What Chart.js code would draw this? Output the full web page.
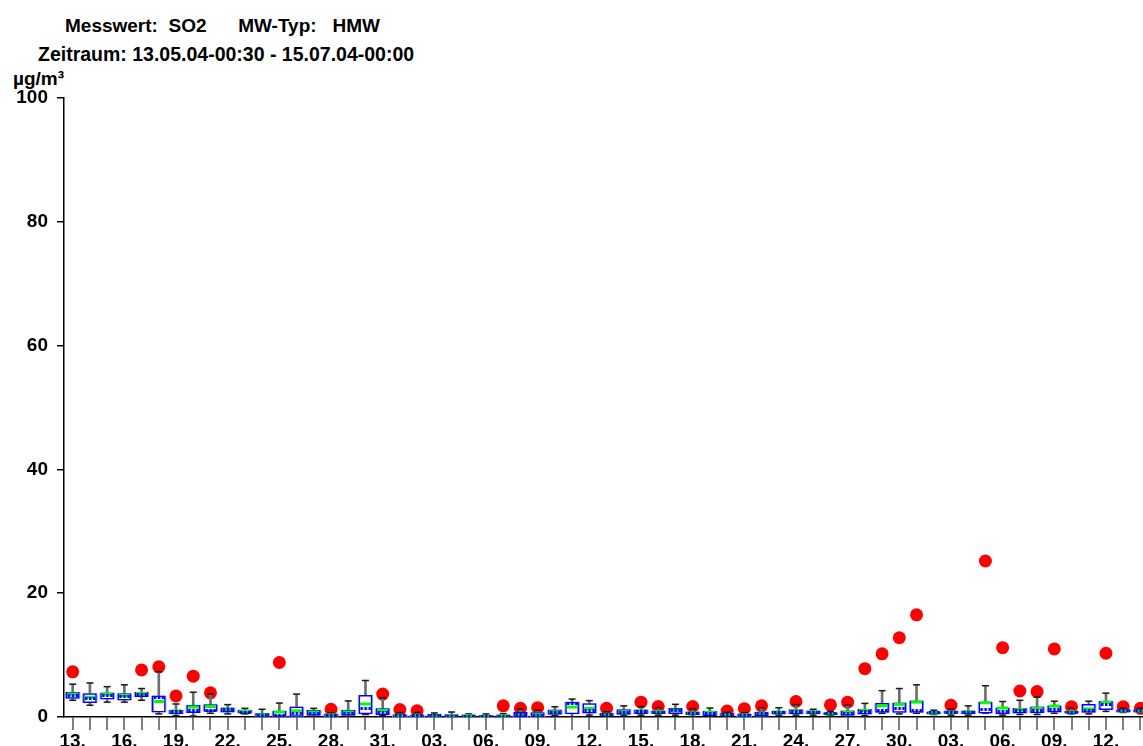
<!DOCTYPE html>
<html>
<head>
<meta charset="utf-8">
<script src="https://cdn.jsdelivr.net/npm/chart.js@4.4.1/dist/chart.umd.min.js"></script>
<style>
  html, body { margin: 0; padding: 0; background: #fff; }
  #wrap { position: relative; width: 1143px; height: 746px; overflow: hidden; }
  .txt { position: absolute; font-family: 'Liberation Sans', Arial, sans-serif; font-weight: bold;
         font-size: 19px; line-height: 19px; color: #000; white-space: pre; }
  canvas { position: absolute; left: 0; top: 0; }
</style>
</head>
<body>
<div id="wrap">
  <div class="txt" style="left:65px; top:16px;">Messwert:  SO2      MW-Typ:   HMW</div>
  <div class="txt" style="left:38px; top:45px; font-size:19.5px;">Zeitraum: 13.05.04-00:30 - 15.07.04-00:00</div>
  <div class="txt" style="left:13px; top:69px;">µg/m³</div>
  <canvas id="myChart" width="1143" height="746"></canvas>
</div>
<script>
// Tage 13.05. - 14.07.
const dayLabels = [
    '13.', '14.', '15.', '16.', '17.', '18.', '19.', '20.', '21.', '22.', '23.', '24.', '25.', '26.', '27.', '28.', '29.', '30.', '31.',
    '01.', '02.', '03.', '04.', '05.', '06.', '07.', '08.', '09.', '10.', '11.', '12.', '13.', '14.', '15.', '16.', '17.', '18.', '19.', '20.',
    '21.', '22.', '23.', '24.', '25.', '26.', '27.', '28.', '29.', '30.',
    '01.', '02.', '03.', '04.', '05.', '06.', '07.', '08.', '09.', '10.', '11.', '12.', '13.', '14.'
];

// Whisker unten / oben
const whiskLow = [
    2.7, 1.9, 2.4, 2.4, 2.7, 0.5, 0.2, 0.15, 0.6, 0.5, 0.5, 0.0, 0.0, 0.0, 0.1, 0.05, 0.0, 0.4, 0.25,
    0.0, 0.0, 0.0, 0.0, 0.0, 0.0, 0.0, 0.0, 0.0, 0.2, 0.05, 0.3, 0.1, 0.2, 0.3, 0.3, 0.3, 0.1, 0.1, 0.1,
    0.0, 0.05, 0.3, 0.3, 0.3, 0.2, 0.05, 0.2, 0.6, 0.5,
    0.6, 0.4, 0.3, 0.3, 0.6, 0.3, 0.4, 0.4, 0.6, 0.5, 0.5, 0.9, 0.75, 0.75
];
const whiskHigh = [
    5.3, 5.5, 4.9, 5.2, 4.6, 7.3, 2.1, 4.0, 3.7, 2.0, 1.4, 1.25, 2.25, 3.7, 1.4, 0.65, 2.6, 5.9, 3.1,
    0.7, 0.75, 0.65, 0.8, 0.5, 0.5, 0.55, 1.3, 1.1, 1.65, 2.9, 2.65, 0.85, 1.8, 1.65, 1.5, 2.05, 1.3, 1.45, 0.75,
    0.7, 1.5, 1.5, 2.0, 1.25, 0.9, 1.95, 2.2, 4.25, 4.6,
    5.2, 1.1, 1.3, 1.8, 5.05, 2.5, 2.7, 3.2, 2.55, 1.45, 2.55, 3.85, 1.4, 1.4
];
// Box (Quartile)
const boxLow = [
    3.0, 2.3, 2.9, 2.7, 3.3, 0.8, 0.5, 0.7, 0.9, 0.8, 0.6, 0.1, 0.1, 0.1, 0.25, 0.1, 0.25, 0.5, 0.35,
    0.05, 0.05, 0.0, 0.0, 0.0, 0.0, 0.0, 0.05, 0.05, 0.4, 0.5, 0.6, 0.2, 0.4, 0.55, 0.55, 0.55, 0.35, 0.2, 0.2,
    0.05, 0.15, 0.45, 0.5, 0.5, 0.35, 0.25, 0.45, 0.75, 0.75,
    0.75, 0.5, 0.55, 0.5, 0.6, 0.5, 0.6, 0.65, 0.8, 0.6, 0.75, 1.2, 0.8, 0.8
];
const boxHigh = [
    4.0, 3.8, 3.9, 3.8, 4.0, 3.4, 1.1, 1.9, 2.0, 1.5, 1.1, 0.6, 0.95, 1.65, 1.1, 0.5, 1.1, 3.5, 1.35,
    0.4, 0.35, 0.45, 0.4, 0.35, 0.25, 0.35, 0.75, 0.7, 1.15, 2.4, 2.15, 0.6, 1.2, 1.15, 1.0, 1.4, 0.85, 0.95, 0.6,
    0.5, 0.8, 0.95, 1.2, 1.0, 0.7, 1.0, 1.25, 2.2, 2.3,
    2.6, 0.85, 1.0, 1.0, 2.4, 1.5, 1.4, 1.65, 1.8, 0.95, 2.05, 2.55, 1.2, 1.2
];
// Mittelwert (gruen) und Median (blau gepunktet)
const meanVal = [
    3.7, 3.2, 3.7, 3.5, 3.8, 2.5, 0.95, 1.6, 1.7, 1.25, 0.95, 0.35, 0.8, 1.0, 0.8, 0.3, 0.8, 2.1, 1.05,
    0.2, 0.2, 0.2, 0.15, 0.2, 0.1, 0.2, 0.4, 0.35, 0.85, 1.6, 1.4, 0.4, 0.85, 0.95, 0.85, 1.1, 0.6, 0.75, 0.4,
    0.3, 0.6, 0.8, 1.0, 0.8, 0.5, 0.8, 1.05, 1.8, 2.05,
    2.4, 0.65, 0.7, 0.85, 2.3, 1.45, 1.2, 1.4, 1.75, 0.8, 1.3, 2.4, 1.0, 1.0
];
const medianVal = [
    3.5, 3.0, 3.4, 3.3, 3.6, 3.2, 0.85, 1.1, 1.1, 1.15, 0.8, 0.3, 0.3, 0.5, 0.55, 0.3, 0.55, 1.3, 0.7,
    0.2, 0.2, 0.2, 0.15, 0.15, 0.05, 0.15, 0.35, 0.3, 0.75, 2.2, 1.1, 0.4, 0.75, 0.85, 0.75, 1.0, 0.6, 0.6, 0.4,
    0.3, 0.5, 0.7, 0.9, 0.75, 0.5, 0.6, 0.9, 1.0, 1.3,
    1.1, 0.65, 0.7, 0.75, 1.2, 0.95, 1.0, 1.1, 1.2, 0.8, 1.1, 2.05, 1.0, 1.0
];
// Tagesmaximum (rot)
const peakVal = [
    7.3, null, null, null, 7.6, 8.1, 3.4, 6.6, 3.9, null, null, null, 8.8, null, null, 1.25, null, null, 3.7,
    1.2, 1.0, null, null, null, null, 1.8, 1.4, 1.5, null, null, null, 1.4, null, 2.4, 1.7, null, 1.7, null, 0.95,
    1.35, 1.8, null, 2.5, null, 1.95, 2.4, 7.8, 10.2, 12.8,
    16.5, null, 1.9, null, 25.2, 11.2, 4.2, 4.1, 11.0, 1.65, null, 10.3, 1.65, 1.4
];

const FONT = "'Liberation Sans', Arial, sans-serif";

function pts(arr) {
    return arr.map((v, i) => ({ x: i, y: v })).filter(p => p.y !== null);
}
function ranges(lo, hi) {
    return lo.map((v, i) => ({ x: i, y: [v, hi[i]] }));
}

// blau gepunktete Linie als Punktstil
const dots = document.createElement('canvas');
dots.width = 12;
dots.height = 3;
(function () {
    const c = dots.getContext('2d');
    c.fillStyle = '#0000ff';
    for (let k = 0; k < 3; k++) {
        c.fillRect(1 + k * 4, 0, 2.5, 3);
    }
})();

const data = {
    datasets: [
        {
            type: 'scatter',
            data: pts(medianVal),
            pointStyle: dots,
            order: 0
        },
        {
            type: 'scatter',
            data: pts(meanVal),
            pointStyle: 'line',
            radius: 5.5,
            borderColor: '#00ff00',
            borderWidth: 3,
            order: 1
        },
        {
            type: 'bar',
            data: ranges(boxLow, boxHigh),
            backgroundColor: '#ffffff',
            borderColor: '#0000ff',
            borderWidth: 1.5,
            borderSkipped: false,
            barThickness: 13,
            grouped: false,
            order: 2
        },
        {
            type: 'bar',
            data: ranges(boxLow, boxHigh),
            backgroundColor: 'rgba(0,0,0,0)',
            borderColor: '#9a9aff',
            borderWidth: 1,
            borderSkipped: false,
            barThickness: 15,
            grouped: false,
            order: 3
        },
        {
            type: 'scatter',
            data: pts(whiskHigh).concat(pts(whiskLow)),
            pointStyle: 'line',
            radius: 3.5,
            borderColor: '#1a1a1a',
            borderWidth: 1.5,
            order: 4
        },
        {
            type: 'bar',
            data: ranges(whiskLow, whiskHigh),
            backgroundColor: '#6e6e6e',
            borderWidth: 0,
            barThickness: 2,
            grouped: false,
            order: 5
        },
        {
            type: 'scatter',
            data: pts(peakVal),
            pointStyle: 'circle',
            radius: 6.5,
            backgroundColor: '#ff0000',
            borderWidth: 0,
            order: 6
        }
    ]
};

const config = {
    type: 'bar',
    data: data,
    options: {
        responsive: false,
        animation: false,
        events: [],
        devicePixelRatio: 1,
        layout: { autoPadding: false, padding: { top: 98, left: 0, right: 0, bottom: 0 } },
        plugins: {
            legend: { display: false },
            tooltip: { enabled: false },
            title: { display: false }
        },
        scales: {
            x: {
                type: 'linear',
                offset: false,
                min: -0.505,
                max: 62.15,
                afterFit: s => { s.height = 29; },
                afterBuildTicks: s => { s.ticks = dayLabels.map((_, i) => ({ value: i })); },
                border: { display: true, color: '#000', width: 1.5 },
                grid: { display: true, offset: false, drawOnChartArea: false, drawTicks: true, tickLength: 13, color: '#808080', lineWidth: 2 },
                ticks: {
                    autoSkip: false,
                    maxRotation: 0,
                    padding: 0,
                    color: '#000',
                    font: { family: FONT, size: 19, weight: 'bold' },
                    callback: v => (v % 3 === 0 ? dayLabels[v] : '')
                }
            },
            y: {
                type: 'linear',
                min: 0,
                max: 100,
                afterFit: s => { s.width = 64; },
                border: { display: true, color: '#000', width: 1.5 },
                grid: { display: true, drawOnChartArea: false, drawTicks: true, tickLength: 7, color: '#000', lineWidth: 1.5 },
                ticks: {
                    stepSize: 20,
                    padding: 9,
                    color: '#000',
                    font: { family: FONT, size: 19, weight: 'bold' }
                }
            }
        }
    }
};

new Chart(document.getElementById('myChart'), config);
</script>
</body>
</html>
